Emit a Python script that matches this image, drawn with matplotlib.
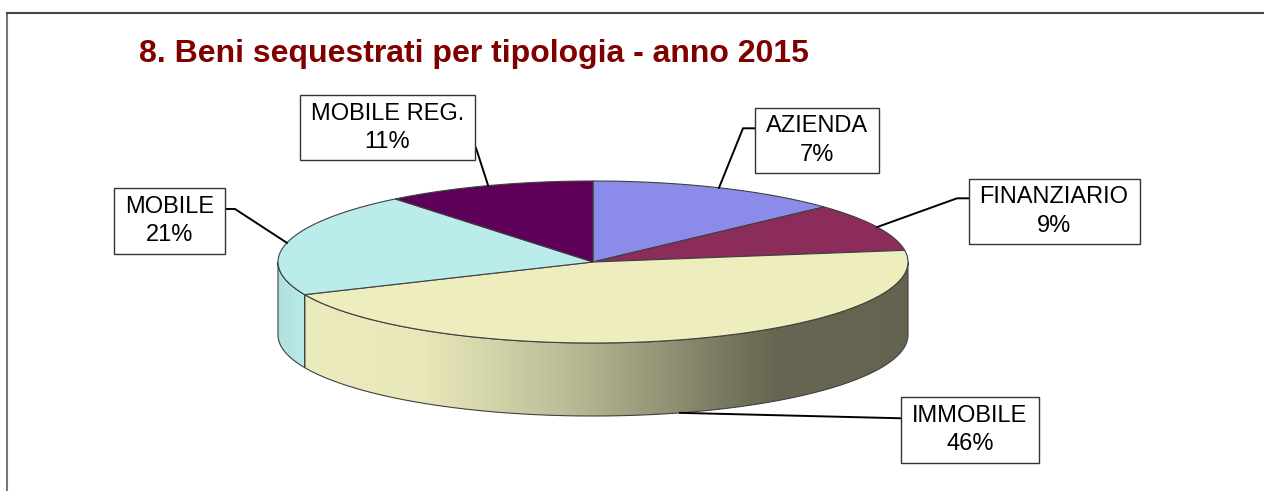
import numpy as np
import matplotlib.pyplot as plt
from matplotlib.patches import Polygon, Rectangle

# categorie e percentuali scritte nelle etichette
categories = ['AZIENDA', 'FINANZIARIO', 'IMMOBILE', 'MOBILE', 'MOBILE REG.']
label_pct = [7, 9, 46, 21, 11]
# ampiezza delle fette come appaiono nel grafico (in %)
slice_share = [13.1, 9.6, 45.7, 20.8, 10.8]
colors = ['#8b8be9', '#8b2c5a', '#ededbe', '#bbecec', '#5e0058']

title = '8. Beni sequestrati per tipologia - anno 2015'

# geometria della torta 3D (pixel)
cx, cy, rx, ry, depth = 593, 262, 315, 81, 73

# posizione dei riquadri delle etichette e punto di gomito della linea guida
label_pos = [(817, 140.5), (1054, 211.5), (970, 430), (169.5, 221), (387.5, 127.7)]
elbows = [[(743, 128.3), (756, 128.3)],
          [(957, 198.3), (968, 198.3)],
          [(902, 418.3)],
          [(235, 209), (224, 209)],
          [(476, 148)]]

# ombreggiatura del bordo laterale (da sinistra a destra)
shade_f = [0.0, 0.045, 0.22, 0.32, 0.45, 0.57, 0.70, 0.79, 1.0]
shade_k = [0.95, 0.99, 0.98, 0.91, 0.80, 0.67, 0.52, 0.43, 0.42]

plt.rcParams['font.family'] = ['Liberation Sans', 'DejaVu Sans']

fig = plt.figure(figsize=(12.64, 4.91), dpi=100)
ax = fig.add_axes([0, 0, 1, 1])
ax.set_xlim(0, 1264)
ax.set_ylim(491, 0)
ax.axis('off')


def pt(t, dy=0.0):
    t = np.radians(t)
    return cx + rx * np.cos(t), cy - ry * np.sin(t) + dy


def arc(t0, t1, dy=0.0, n=120):
    tt = np.linspace(t0, t1, n)
    x, y = pt(tt, dy)
    return np.column_stack([x, y])


share = np.array(slice_share, dtype=float)
span = 360 * share / share.sum()
starts = 90 - np.concatenate([[0], np.cumsum(span)[:-1]])
ends = starts - span
edge = '#404040'

# bordo laterale (solo la parte anteriore)
xs = np.linspace(cx - rx, cx + rx, 500)
fac = np.interp((xs - (cx - rx)) / (2 * rx), shade_f, shade_k)
for i in range(len(categories)):
    for k in (-360, 0, 360):
        a0 = max(ends[i] + k, -180)
        a1 = min(starts[i] + k, 0)
        if a1 <= a0:
            continue
        verts = np.vstack([arc(a0, a1), arc(a1, a0, depth)])
        poly = Polygon(verts, closed=True, fc='none', ec=edge, lw=0.8, zorder=2)
        ax.add_patch(poly)
        base = np.array(plt.matplotlib.colors.to_rgb(colors[i]))
        img = np.clip(fac[None, :, None] * base[None, None, :], 0, 1)
        im = ax.imshow(img, extent=(cx - rx, cx + rx, cy + ry + depth + 2, cy - ry),
                       aspect='auto', interpolation='bilinear', zorder=1)
        im.set_clip_path(poly)

# superficie superiore
for i in range(len(categories)):
    verts = np.vstack([[cx, cy], arc(starts[i], ends[i])])
    ax.add_patch(Polygon(verts, closed=True, fc=colors[i], ec=edge, lw=0.8, zorder=3))

ax.set_xlim(0, 1264)
ax.set_ylim(491, 0)

# etichette
fig.canvas.draw()
renderer = fig.canvas.get_renderer()
inv = ax.transData.inverted()
padx, pady = 11, 7.5
for i, cat in enumerate(categories):
    bx, by = label_pos[i]
    t = ax.text(bx, by, f'{cat}\n{label_pct[i]}%', ha='center', va='center',
                ma='center', fontsize=17, linespacing=1.37, zorder=6)
    bb = t.get_window_extent(renderer)
    (x0, y0), (x1, y1) = inv.transform([(bb.x0, bb.y0), (bb.x1, bb.y1)])
    ax.add_patch(Rectangle((x0 - padx, y1 - pady), (x1 - x0) + 2 * padx,
                           (y0 - y1) + 2 * pady, fc='white', ec='#333333', lw=1, zorder=5))
    mid = (starts[i] + ends[i]) / 2
    dy = depth if np.sin(np.radians(mid)) < 0 else 0
    px, py = pt(mid, dy)
    path = [(px, py)] + elbows[i]
    ax.plot([p[0] for p in path], [p[1] for p in path], color='black', lw=1.4, zorder=4)

ax.text(139, 62.3, title, fontsize=23, fontweight='bold', color='#800000',
        ha='left', va='baseline')

# cornice
ax.plot([6.5, 6.5], [491, 12.5], color='#777777', lw=1.5)
ax.plot([6.5, 1264], [12.5, 12.5], color='#444444', lw=1.5)

fig.savefig('out.png', dpi=100)
